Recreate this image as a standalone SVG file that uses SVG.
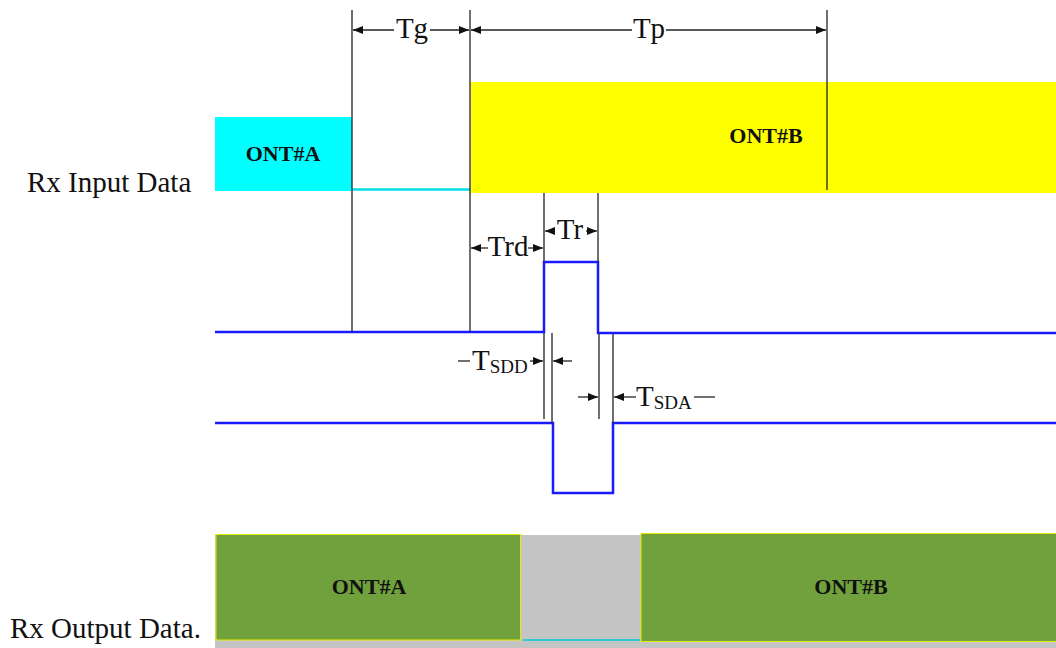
<svg xmlns="http://www.w3.org/2000/svg" width="1056" height="648" viewBox="0 0 1056 648">
<style>
.t{font-family:"Liberation Serif","Times New Roman",serif;fill:#111;}
.lbl{font-size:29px;}
.b{font-size:22px;font-weight:bold;}
.sub{font-size:19px;}
.dim{stroke:#222;stroke-width:1.3;fill:none;}
.sig{stroke:#1a1aff;stroke-width:2.5;fill:none;}
.ah{fill:#111;}
</style>
<defs>
<marker id="arr" viewBox="0 0 10 8" refX="10" refY="4" markerWidth="11" markerHeight="8" markerUnits="userSpaceOnUse" orient="auto-start-reverse">
<path d="M0,0 L10,4 L0,8 Z" class="ah"/>
</marker>
</defs>
<rect width="1056" height="648" fill="#fff"/>
<g id="rx-input">
<rect x="215" y="117" width="137" height="74" fill="#00ffff"/>
<line x1="352" y1="189.5" x2="470" y2="189.5" stroke="#00e0e8" stroke-width="2.5"/>
<rect x="471" y="82" width="585" height="111" fill="#ffff00"/>
<text class="t b" x="283" y="161" text-anchor="middle">ONT#A</text>
<text class="t b" x="766" y="143" text-anchor="middle">ONT#B</text>
<text class="t lbl" x="27" y="192">Rx Input Data</text>
</g>
<g id="rx-output">
<rect x="215" y="535" width="841" height="113" fill="#c4c4c4"/>
<rect x="216" y="534.5" width="304.5" height="105.5" fill="#71a13c" stroke="#e8e800" stroke-width="1"/>
<rect x="641" y="533.5" width="416" height="108" fill="#71a13c" stroke="#e8e800" stroke-width="1"/>
<line x1="523" y1="640" x2="640" y2="640" stroke="#30c8d8" stroke-width="2"/>
<text class="t b" x="369" y="594" text-anchor="middle">ONT#A</text>
<text class="t b" x="851" y="594" text-anchor="middle">ONT#B</text>
<text class="t lbl" x="10" y="638">Rx Output Data.</text>
</g>
<g id="signals">
<polyline class="sig" points="215,332 544,332 544,262 598,262 598,333 1056,333"/>
<polyline class="sig" points="215,423 553,423 553,493 613,493 613,423 1056,423"/>
</g>
<g id="connectors">
<line class="dim" x1="352" y1="10" x2="352" y2="332"/>
<line class="dim" x1="470" y1="10" x2="470" y2="332"/>
<line class="dim" x1="827" y1="10" x2="827" y2="190"/>
<line class="dim" x1="544" y1="193" x2="544" y2="262"/>
<line class="dim" x1="598" y1="193" x2="598" y2="262"/>
<line class="dim" x1="544" y1="333" x2="544" y2="419"/>
<line class="dim" x1="552" y1="333" x2="552" y2="423"/>
<line class="dim" x1="599" y1="334" x2="599" y2="419"/>
<line class="dim" x1="613" y1="334" x2="613" y2="423"/>
<line class="dim" x1="394" y1="30" x2="353" y2="30" marker-end="url(#arr)"/>
<line class="dim" x1="430" y1="30" x2="469" y2="30" marker-end="url(#arr)"/>
<line class="dim" x1="632" y1="30" x2="471" y2="30" marker-end="url(#arr)"/>
<line class="dim" x1="666" y1="30" x2="826" y2="30" marker-end="url(#arr)"/>
<line class="dim" x1="488" y1="248" x2="471" y2="248" marker-end="url(#arr)"/>
<line class="dim" x1="528" y1="248" x2="543" y2="248" marker-end="url(#arr)"/>
<line class="dim" x1="555" y1="231" x2="545" y2="231" marker-end="url(#arr)"/>
<line class="dim" x1="586" y1="231" x2="597" y2="231" marker-end="url(#arr)"/>
<line class="dim" x1="458" y1="361" x2="470" y2="361"/>
<line class="dim" x1="530" y1="361" x2="543" y2="361" marker-end="url(#arr)"/>
<line class="dim" x1="572" y1="361" x2="553" y2="361" marker-end="url(#arr)"/>
<line class="dim" x1="578" y1="397" x2="598" y2="397" marker-end="url(#arr)"/>
<line class="dim" x1="636" y1="397" x2="614" y2="397" marker-end="url(#arr)"/>
<line class="dim" x1="694" y1="397" x2="715" y2="397"/>
</g>
<g id="labels">
<text class="t lbl" x="412" y="38" text-anchor="middle">Tg</text>
<text class="t lbl" x="649" y="38" text-anchor="middle">Tp</text>
<text class="t lbl" x="508" y="256" text-anchor="middle" font-size="27">Trd</text>
<text class="t lbl" x="570" y="239" text-anchor="middle" font-size="27">Tr</text>
<text class="t lbl" x="472" y="370">T<tspan class="sub" dy="3">SDD</tspan></text>
<text class="t lbl" x="636" y="406">T<tspan class="sub" dy="3">SDA</tspan></text>
</g>
</svg>
